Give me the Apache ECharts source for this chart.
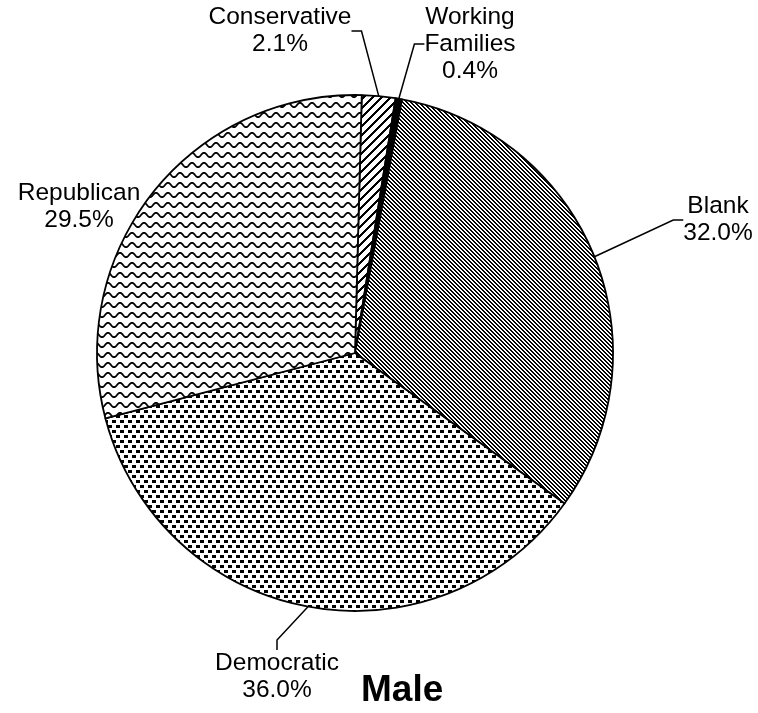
<!DOCTYPE html>
<html>
<head>
<meta charset="utf-8">
<script src="https://cdn.jsdelivr.net/npm/echarts@6/dist/echarts.min.js"></script>
<style>
  html,body{margin:0;padding:0;background:#fff}
  #pie{width:758px;height:713px}
</style>
</head>
<body>
<div id="pie"></div>
<script>
// party shares (percent), clockwise from 12 o'clock
const parties=['Conservative','Working Families','Blank','Democratic','Republican']
const shares=[2.1,0.4,32.0,36.0,29.5]
const chartTitle='Male'

// where each label sits (label centre, px)
const labelPos=[[280,31],[470,44],[718,220],[277,677],[79,207]]

// small canvas tiles used as fill patterns
function tile(w,h,draw){
  const c=document.createElement('canvas')
  c.width=w;c.height=h
  const ctx=c.getContext('2d')
  ctx.fillStyle='#fff'
  ctx.fillRect(0,0,w,h)
  ctx.fillStyle='#000'
  draw(ctx)
  return {image:c,repeat:'repeat'}
}
function stripes(p,w,up){
  return tile(p,p,function(ctx){
    for(let x=0;x<p;x++){
      for(let y=0;y<p;y++){
        const k=up?(x+y)%p:((x-y)%p+p)%p
        if(k<w) ctx.fillRect(x,y,1,1)
      }
    }
  })
}
const wavy=tile(12,10,function(ctx){
  ctx.strokeStyle='#000'
  ctx.lineWidth=1.8
  ctx.beginPath()
  for(let x=-1;x<=13;x+=0.5){
    const y=5-2.2*Math.cos(x/12*2*Math.PI)
    if(x===-1) ctx.moveTo(x,y)
    else ctx.lineTo(x,y)
  }
  ctx.stroke()
})
const dots=tile(8,10,function(ctx){
  ctx.fillRect(0,0,4,3)
  ctx.fillRect(4,5,4,3)
})
const fills=[stripes(9,3,true),'#000',stripes(4,2,false),dots,wavy]

const myChart=echarts.init(document.querySelector('#pie'),null,{renderer:'canvas'})
const option={
  animation:false,
  title:{
    text:chartTitle,
    left:356,
    top:667,
    textStyle:{fontFamily:'Liberation Sans',fontSize:37,fontWeight:'bold',color:'#000'}
  },
  series:[
    {
      type:'pie',
      center:[355,353],
      radius:[0,258],
      startAngle:88.5,
      clockwise:true,
      itemStyle:{borderColor:'#000',borderWidth:1.8},
      label:{
        show:true,
        position:'outside',
        fontFamily:'Liberation Sans',
        fontSize:24.5,
        lineHeight:27,
        color:'#000',
        align:'center',
        overflow:'none',
        formatter:function(p){
          return p.name.replace(' ','\n')+'\n'+p.value.toFixed(1)+'%'
        }
      },
      labelLine:{show:true,length:10,length2:10,lineStyle:{color:'#000',width:1.5}},
      labelLayout:function(p){
        const pos=labelPos[p.dataIndex]
        return {x:pos[0],y:pos[1],align:'center',verticalAlign:'middle'}
      },
      emphasis:{disabled:true},
      data:parties.map(function(name,i){
        const item={name:name,value:shares[i],itemStyle:{color:fills[i]}}
        if(name==='Republican') item.labelLine={show:false}
        return item
      })
    }
  ]
}
myChart.setOption(option)
</script>
</body>
</html>
